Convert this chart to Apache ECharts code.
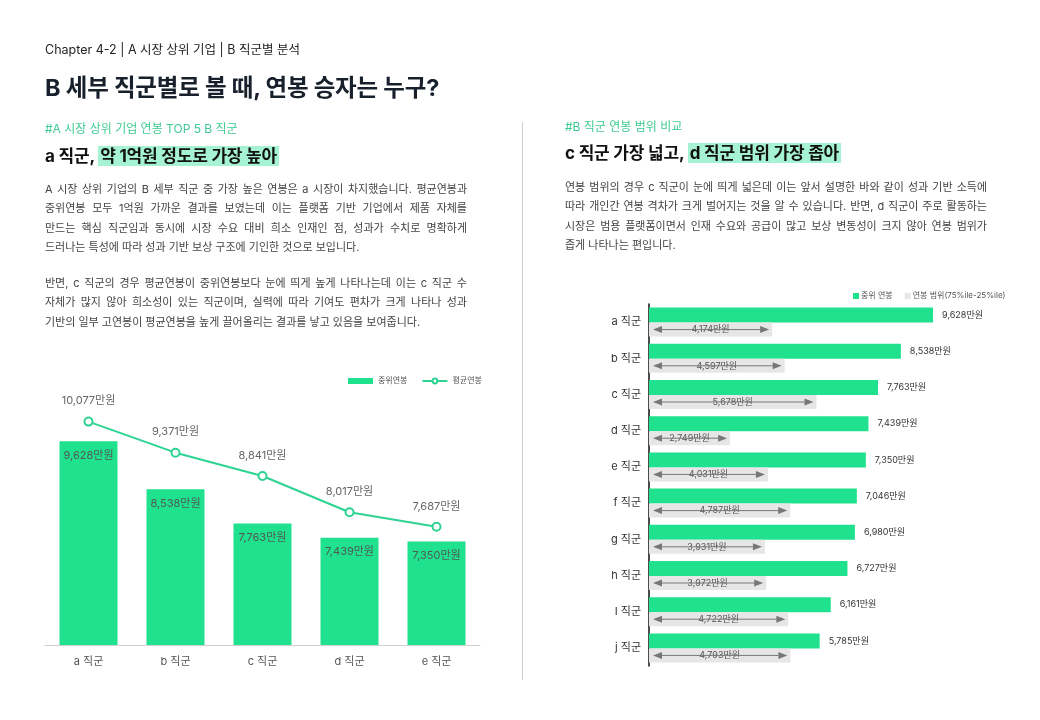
<!DOCTYPE html>
<html>
<head>
<meta charset="utf-8">
<script src="https://cdn.jsdelivr.net/npm/echarts@6/dist/echarts.min.js"></script>
<style>
  html, body { margin: 0; padding: 0; background: #fff; }
  body { width: 1040px; height: 720px; position: relative; overflow: hidden;
         font-family: Inter, "Noto Sans CJK KR", "Noto Sans", sans-serif; color: #222; }
  #chart { position: absolute; left: 0; top: 0; width: 1040px; height: 720px; }
  .t { position: absolute; white-space: nowrap; }
  .chapter { left: 45px; top: 41px; font-size: 12.5px; line-height: 18px; color: #222; }
  .title { left: 45px; top: 72px; font-size: 23.5px; line-height: 32px; font-weight: 700; color: #18202c; letter-spacing: -0.2px; }
  .tag { font-size: 12px; line-height: 16px; color: #3fca92; }
  .sub { font-size: 17px; line-height: 24px; font-weight: 700; color: #111; letter-spacing: -0.2px; }
  .hl { background: #a6f2d4; padding: 0 2px; }
  .para { position: absolute; font-size: 11px; color: #444; }
  .para div { height: 19.3px; line-height: 19.3px; white-space: nowrap; }
  .para div.j { text-align: justify; text-align-last: justify; white-space: normal; }
  .divider { position: absolute; left: 522px; top: 122px; width: 1px; height: 558px; background: #cfcfcf; }
</style>
</head>
<body>
<div id="chart"></div>

<div class="t chapter">Chapter 4-2 | A 시장 상위 기업 | B 직군별 분석</div>
<div class="t title">B 세부 직군별로 볼 때, 연봉 승자는 누구?</div>

<div class="t tag" style="left:45px; top:121px;">#A 시장 상위 기업 연봉 TOP 5 B 직군</div>
<div class="t sub" style="left:45px; top:144px;">a 직군, <span class="hl">약 1억원 정도로 가장 높아</span></div>
<div class="para" style="left:45px; top:180px; width:422px;">
  <div class="j">A 시장 상위 기업의 B 세부 직군 중 가장 높은 연봉은 a 시장이 차지했습니다. 평균연봉과</div>
  <div class="j">중위연봉 모두 1억원 가까운 결과를 보였는데 이는 플랫폼 기반 기업에서 제품 자체를</div>
  <div class="j">만드는 핵심 직군임과 동시에 시장 수요 대비 희소 인재인 점, 성과가 수치로 명확하게</div>
  <div>드러나는 특성에 따라 성과 기반 보상 구조에 기인한 것으로 보입니다.</div>
</div>
<div class="para" style="left:45px; top:274px; width:422px;">
  <div class="j">반면, c 직군의 경우 평균연봉이 중위연봉보다 눈에 띄게 높게 나타나는데 이는 c 직군 수</div>
  <div class="j">자체가 많지 않아 희소성이 있는 직군이며, 실력에 따라 기여도 편차가 크게 나타나 성과</div>
  <div>기반의 일부 고연봉이 평균연봉을 높게 끌어올리는 결과를 낳고 있음을 보여줍니다.</div>
</div>

<div class="divider"></div>

<div class="t tag" style="left:565px; top:119px;">#B 직군 연봉 범위 비교</div>
<div class="t sub" style="left:565px; top:141px;">c 직군 가장 넓고, <span class="hl">d 직군 범위 가장 좁아</span></div>
<div class="para" style="left:565px; top:178px; width:422px;">
  <div class="j">연봉 범위의 경우 c 직군이 눈에 띄게 넓은데 이는 앞서 설명한 바와 같이 성과 기반 소득에</div>
  <div class="j">따라 개인간 연봉 격차가 크게 벌어지는 것을 알 수 있습니다. 반면, d 직군이 주로 활동하는</div>
  <div class="j">시장은 범용 플랫폼이면서 인재 수요와 공급이 많고 보상 변동성이 크지 않아 연봉 범위가</div>
  <div>좁게 나타나는 편입니다.</div>
</div>

<script>
// 왼쪽: TOP 5 직군 중위/평균 연봉 (만원)
var topCats = ['a 직군', 'b 직군', 'c 직군', 'd 직군', 'e 직군'];
var topMedian = [9628, 8538, 7763, 7439, 7350];
var topMean = [10077, 9371, 8841, 8017, 7687];

// 오른쪽: 직군별 중위 연봉과 연봉 범위(75%ile-25%ile)
var rangeCats = ['a 직군', 'b 직군', 'c 직군', 'd 직군', 'e 직군', 'f 직군', 'g 직군', 'h 직군', 'I 직군', 'j 직군'];
var rangeMedian = [9628, 8538, 7763, 7439, 7350, 7046, 6980, 6727, 6161, 5785];
var rangeWidth = [4174, 4597, 5678, 2749, 4031, 4787, 3931, 3972, 4722, 4793];

var GREEN = '#20e28e';
var LINE = '#2dd392';
var FONT = 'Inter, "Noto Sans CJK KR", "Noto Sans", sans-serif';

function fmt(v) {
  return Number(v).toLocaleString('en-US') + '만원';
}

var chart = echarts.init(document.getElementById('chart'), null, { renderer: 'canvas' });

var option = {
  animation: false,
  textStyle: { fontFamily: FONT },
  legend: [{
    left: 343, top: 372,
    itemWidth: 25, itemHeight: 6, itemGap: 14,
    textStyle: { fontSize: 8, color: '#555' },
    data: [{ name: '중위연봉', icon: 'rect' }, { name: '평균연봉' }]
  }, {
    left: 848, top: 287,
    itemWidth: 6, itemHeight: 6, itemGap: 12,
    textStyle: { fontSize: 8, color: '#555', padding: [0, 0, 0, -3] },
    data: [{ name: '중위 연봉', icon: 'rect' }, { name: '연봉 범위(75%ile-25%ile)', icon: 'rect' }]
  }],
  grid: [
    { left: 45, top: 381, width: 435, height: 264 },
    { left: 649, top: 304, width: 354, height: 362 }
  ],
  xAxis: [{
    gridIndex: 0, type: 'category', data: topCats,
    axisLine: { lineStyle: { color: '#d0d0d0' } },
    axisTick: { show: false },
    axisLabel: { fontSize: 11, color: '#555', margin: 11 }
  }, {
    gridIndex: 1, type: 'value', min: 0, max: 12000, show: false
  }],
  yAxis: [{
    gridIndex: 0, type: 'value', min: 5000, max: 11000, show: false
  }, {
    gridIndex: 1, type: 'category', data: rangeCats, inverse: true,
    axisLine: { lineStyle: { color: '#111', width: 1.5 } },
    axisTick: { show: false },
    axisLabel: { fontSize: 11, color: '#333', margin: 8 }
  }],
  series: [{
    name: '중위연봉', type: 'bar', xAxisIndex: 0, yAxisIndex: 0,
    data: topMedian, barWidth: 58,
    itemStyle: { color: GREEN },
    label: { show: true, position: 'insideTop', distance: 9, fontSize: 11, color: '#4f5a55', formatter: function (p) { return fmt(p.value); } }
  }, {
    name: '평균연봉', type: 'line', xAxisIndex: 0, yAxisIndex: 0,
    data: topMean, symbol: 'circle', symbolSize: 8,
    lineStyle: { color: LINE, width: 2 },
    itemStyle: { color: '#fff', borderColor: LINE, borderWidth: 2 },
    label: { show: true, position: 'top', distance: 10, fontSize: 11, color: '#666', formatter: function (p) { return fmt(p.value); } }
  }, {
    name: '중위 연봉', type: 'bar', xAxisIndex: 1, yAxisIndex: 1,
    data: rangeMedian, barWidth: 15, barGap: '0%',
    itemStyle: { color: GREEN },
    label: { show: true, position: 'right', distance: 9, fontSize: 9, color: '#333', formatter: function (p) { return fmt(p.value); } }
  }, {
    name: '연봉 범위(75%ile-25%ile)', type: 'bar', xAxisIndex: 1, yAxisIndex: 1,
    data: rangeWidth, barWidth: 14, barGap: '0%',
    itemStyle: { color: '#e6e6e6' }
  }, {
    name: 'range-arrow', type: 'custom', xAxisIndex: 1, yAxisIndex: 1,
    silent: true, z: 5,
    data: rangeWidth.map(function (v, i) { return [v, i]; }),
    encode: { x: 0, y: 1 },
    renderItem: function (params, api) {
      var idx = api.value(1);
      var v = api.value(0);
      var s = api.coord([0, idx]);
      var e = api.coord([v, idx]);
      var y = s[1] + 7.5;
      var x1 = s[0] + 4, x2 = e[0] - 3;
      var ah = 9, hw = 3.5;
      return {
        type: 'group',
        children: [{
          type: 'text',
          style: { text: fmt(v), x: (s[0] + e[0]) / 2, y: y, align: 'center', verticalAlign: 'middle', fill: '#555', font: '9px ' + FONT }
        }, {
          type: 'line',
          shape: { x1: x1 + ah, y1: y, x2: x2 - ah, y2: y },
          style: { stroke: '#777', lineWidth: 1 }
        }, {
          type: 'polygon',
          shape: { points: [[x1, y], [x1 + ah, y - hw], [x1 + ah, y + hw]] },
          style: { fill: '#777' }
        }, {
          type: 'polygon',
          shape: { points: [[x2, y], [x2 - ah, y - hw], [x2 - ah, y + hw]] },
          style: { fill: '#777' }
        }]
      };
    }
  }]
};

chart.setOption(option);
</script>
</body>
</html>
